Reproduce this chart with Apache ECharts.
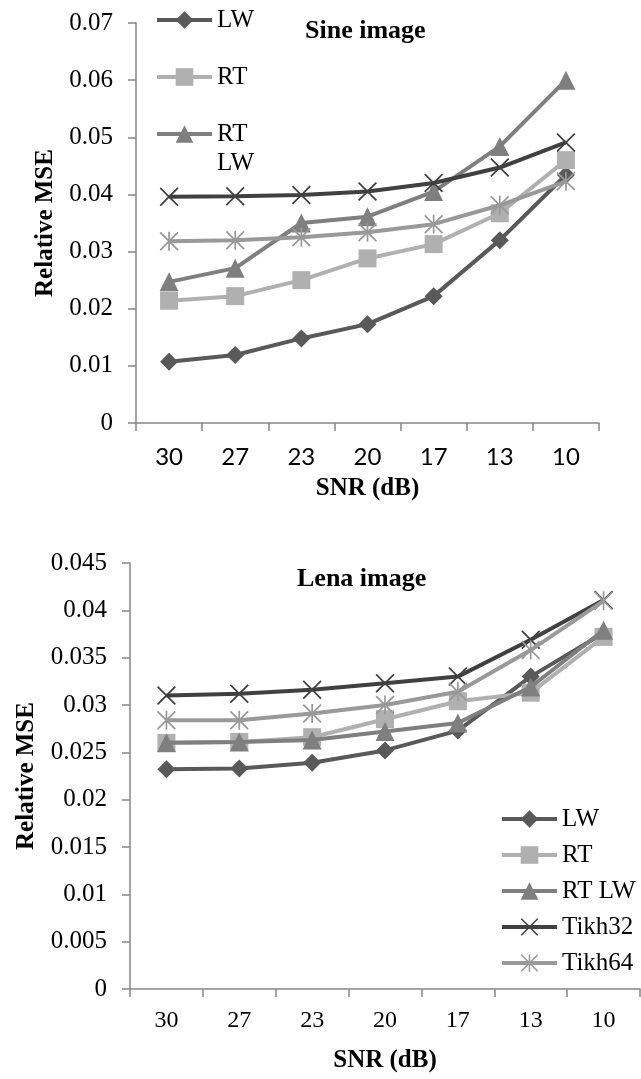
<!DOCTYPE html>
<html>
<head>
<meta charset="utf-8">
<script src="https://cdn.jsdelivr.net/npm/echarts@6/dist/echarts.min.js"></script>
<style>
  html, body { margin: 0; padding: 0; background: #fff; }
  #chart { width: 641px; height: 1079px; }
</style>
</head>
<body>
<div id="chart"></div>
<script>
  // SNR categories (dB)
  var snr = ['30', '27', '23', '20', '17', '13', '10'];
  var seriesNames = ['LW', 'RT', 'RT LW', 'Tikh32', 'Tikh64'];

  // Sine image
  var sineLW     = [0.0107, 0.0119, 0.0148, 0.0173, 0.0222, 0.0320, 0.0434];
  var sineRT     = [0.0214, 0.0222, 0.0250, 0.0288, 0.0313, 0.0367, 0.0460];
  var sineRTLW   = [0.0247, 0.0271, 0.0350, 0.0361, 0.0405, 0.0484, 0.0600];
  var sineTikh32 = [0.0396, 0.0397, 0.0399, 0.0405, 0.0420, 0.0447, 0.0491];
  var sineTikh64 = [0.0318, 0.0320, 0.0325, 0.0334, 0.0348, 0.0381, 0.0423];

  // Lena image
  var lenaLW     = [0.0232, 0.0233, 0.0239, 0.0252, 0.0273, 0.0330, 0.0376];
  var lenaRT     = [0.0260, 0.0261, 0.0266, 0.0285, 0.0304, 0.0313, 0.0372];
  var lenaRTLW   = [0.0260, 0.0261, 0.0263, 0.0272, 0.0281, 0.0319, 0.0379];
  var lenaTikh32 = [0.0310, 0.0312, 0.0316, 0.0323, 0.0330, 0.0369, 0.0411];
  var lenaTikh64 = [0.0284, 0.0284, 0.0291, 0.0300, 0.0314, 0.0358, 0.0410];

  var colors = ['#595959', '#b0b0b0', '#7f7f7f', '#404040', '#999999'];
  // x marker and star (x + vertical bar) marker
  var xMark = 'path://M0,1.3L1.3,0L20,18.7L18.7,20Z M18.7,0L20,1.3L1.3,20L0,18.7Z';
  var starMark = xMark + ' M9.1,0L10.9,0L10.9,20L9.1,20Z';
  var symbols = ['diamond', 'rect', 'triangle', xMark, starMark];
  var sizes = [18, 18, 19, 19, 19];

  var serif = 'Liberation Serif';

  function fmt(v) {
    return String(+v.toFixed(4));
  }

  function makeSeries(idx, dataList) {
    var out = [];
    for (var i = 0; i < dataList.length; i++) {
      out.push({
        name: seriesNames[i],
        type: 'line',
        xAxisIndex: idx,
        yAxisIndex: idx,
        data: dataList[i],
        symbol: symbols[i],
        symbolSize: sizes[i],
        showAllSymbol: true,
        color: colors[i],
        lineStyle: { width: 4, color: colors[i] },
        itemStyle: { color: colors[i] },
        z: 2 + i
      });
    }
    return out;
  }

  function xAxisOpt(idx, labelFont, gap, margin) {
    return {
      type: 'category',
      gridIndex: idx,
      data: snr,
      boundaryGap: true,
      name: 'SNR (dB)',
      nameLocation: 'middle',
      nameGap: gap,
      nameTextStyle: { fontFamily: serif, fontWeight: 'bold', fontSize: 25, color: '#000' },
      axisLine: { lineStyle: { color: '#868686', width: 1.5 } },
      axisTick: { show: true, length: 8, lineStyle: { color: '#868686', width: 1.5 } },
      axisLabel: { margin: margin, color: '#000', fontSize: 24, fontFamily: labelFont },
      splitLine: { show: false }
    };
  }

  function yAxisOpt(idx, max, interval, gap) {
    return {
      type: 'value',
      gridIndex: idx,
      min: 0,
      max: max,
      interval: interval,
      name: 'Relative MSE',
      nameLocation: 'middle',
      nameGap: gap,
      nameTextStyle: { fontFamily: serif, fontWeight: 'bold', fontSize: 25, color: '#000' },
      axisLine: { show: true, lineStyle: { color: '#868686', width: 1.5 } },
      axisTick: { show: true, length: 8, lineStyle: { color: '#868686', width: 1.5 } },
      axisLabel: { margin: 23, color: '#000', fontSize: 25, fontFamily: serif, formatter: fmt },
      splitLine: { show: false }
    };
  }

  var legendText = { fontFamily: serif, fontSize: 25, color: '#000' };

  var myChart = echarts.init(document.getElementById('chart'));
  var option = {
    animation: false,
    backgroundColor: '#fff',
    title: [
      { text: 'Sine image', left: 305, top: 18, padding: 0,
        textStyle: { fontFamily: serif, fontWeight: 'bold', fontSize: 26, color: '#000' } },
      { text: 'Lena image', left: 297, top: 566, padding: 0,
        textStyle: { fontFamily: serif, fontWeight: 'bold', fontSize: 26, color: '#000' } }
    ],
    legend: [
      // top chart: LW, RT
      {
        left: 155, top: 5.5, orient: 'vertical', padding: 0,
        itemWidth: 55, itemHeight: 22, itemGap: 28,
        lineStyle: { width: 4 },
        data: ['LW', 'RT'],
        textStyle: Object.assign({ lineHeight: 29 }, legendText)
      },
      // top chart: RT LW (wrapped label, first line level with the icon)
      {
        left: 155, top: 90.5, orient: 'vertical', padding: 0,
        itemWidth: 55, itemHeight: 22,
        lineStyle: { width: 4 },
        data: ['RT LW'],
        formatter: function () { return '\nRT\nLW'; },
        textStyle: Object.assign({ lineHeight: 29 }, legendText)
      },
      // bottom chart
      {
        left: 500, top: 804, orient: 'vertical', padding: 0,
        itemWidth: 55, itemHeight: 22, itemGap: 6,
        lineStyle: { width: 4 },
        data: seriesNames,
        textStyle: Object.assign({ lineHeight: 30 }, legendText)
      }
    ],
    grid: [
      { left: 136, top: 23, width: 463, height: 400 },
      { left: 130, top: 563, width: 510, height: 426 }
    ],
    xAxis: [xAxisOpt(0, 'Lato', 53, 22), xAxisOpt(1, serif, 59, 20)],
    yAxis: [yAxisOpt(0, 0.07, 0.01, 77), yAxisOpt(1, 0.045, 0.005, 91)],
    series: makeSeries(0, [sineLW, sineRT, sineRTLW, sineTikh32, sineTikh64])
      .concat(makeSeries(1, [lenaLW, lenaRT, lenaRTLW, lenaTikh32, lenaTikh64]))
  };
  myChart.setOption(option);
</script>
</body>
</html>
